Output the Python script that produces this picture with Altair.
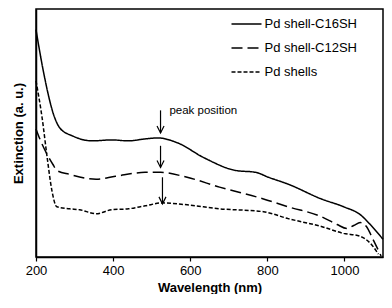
import altair as alt
import pandas as pd

# Wavelength (nm) / extinction (arbitrary units)
c16_x = [200, 218, 249, 262, 295, 346, 396, 440, 483, 516, 567, 635, 717, 770, 803, 854, 940, 998, 1041, 1067, 1100]
c16_y = [231, 191, 141, 131, 123, 118, 119, 118, 120, 121, 116, 101, 88, 86, 81, 74, 59, 51, 43, 33, 18]

c12_x = [200, 211, 244, 254, 287, 356, 406, 483, 523, 592, 676, 790, 854, 940, 981, 1006, 1024, 1041, 1057, 1074, 1095]
c12_y = [130, 119, 94, 88, 84, 79, 82, 86, 86, 81, 71, 59, 51, 41, 33, 29, 32, 35, 31, 18, 1]

shell_x = [200, 216, 229, 241, 254, 287, 313, 356, 396, 440, 483, 528, 592, 676, 790, 854, 940, 998, 1041, 1067, 1088]
shell_y = [179, 141, 101, 68, 51, 49, 48, 44, 48, 49, 52, 55, 53, 49, 46, 39, 31, 24, 21, 14, 3]

series = ["Pd shell-C16SH", "Pd shell-C12SH", "Pd shells"]
dashes = [[1, 0], [11, 5], [4, 2]]
x_ticks = [200, 400, 600, 800, 1000]

# arrows marking the peak position
arrow_x = [523, 523, 528]
arrow_top = [149, 113, 81]
arrow_tip = [126, 91, 54]
note_text = ["peak position"]
note_x = [546]
note_y = [148]

rows = []
for name, xs, ys in zip(series, [c16_x, c12_x, shell_x], [c16_y, c12_y, shell_y]):
    for i, (x, y) in enumerate(zip(xs, ys)):
        rows.append({"wl": x, "ext": y, "series": name, "order": i})
df = pd.DataFrame(rows)

arrows = pd.DataFrame({"x": arrow_x, "y1": arrow_top, "y2": arrow_tip})
note = pd.DataFrame({"x": note_x, "y": note_y, "t": note_text})

FONT = "Liberation Sans"

xscale = alt.Scale(domain=[200, 1100], nice=False, zero=False)
yscale = alt.Scale(domain=[0, 252], nice=False, zero=False)

xaxis = alt.Axis(values=x_ticks, format="d", title="Wavelength (nm)", labelFlush=False,
                 tickSize=4, labelPadding=3, titlePadding=4, grid=False)
yaxis = alt.Axis(title="Extinction (a. u.)", ticks=False, labels=False,
                 grid=False, titlePadding=11)

lines = alt.Chart(df).mark_line(color="black", strokeWidth=1.5, interpolate="monotone").encode(
    x=alt.X("wl:Q", scale=xscale, axis=xaxis),
    y=alt.Y("ext:Q", scale=yscale, axis=yaxis),
    strokeDash=alt.StrokeDash(
        "series:N",
        scale=alt.Scale(domain=series, range=dashes),
        legend=alt.Legend(title=None, orient="none", legendX=202, legendY=6.5,
                          symbolType="M-2,0H2", symbolSize=225, labelOffset=9.5,
                          rowPadding=8, padding=0, labelFontSize=13, labelFont=FONT,
                          symbolStrokeColor="black", symbolStrokeWidth=1.5,
                          labelColor="black"),
    ),
    order="order:Q",
)

shafts = alt.Chart(arrows).mark_rule(color="black", strokeWidth=1.2).encode(
    x="x:Q", y="y1:Q", y2="y2:Q"
)
heads = alt.Chart(arrows).mark_point(shape="M-1,-2L0,0L1,-2", filled=False, color="black",
                                     strokeWidth=1.2, size=49, opacity=1).encode(
    x="x:Q", y="y2:Q"
)
label = alt.Chart(note).mark_text(align="left", baseline="middle", font=FONT, fontSize=11.5,
                                  color="black").encode(
    x="x:Q", y="y:Q", text="t:N"
)

chart = alt.layer(lines, shafts, heads, label).properties(
    width=347, height=248,
    autosize=alt.AutoSizeParams(type="none"),
    padding={"left": 28, "top": 1, "right": 1, "bottom": 37},
).configure_view(
    stroke="black", strokeWidth=1.5
).configure_axis(
    domainColor="black", domainWidth=1.5, tickColor="black", tickWidth=1.2,
    labelFont=FONT, labelFontSize=13, labelColor="black",
    titleFont=FONT, titleFontSize=13, titleFontWeight="bold", titleColor="black",
)

chart.save("out.html", embed_options={"renderer": "svg", "actions": False})
